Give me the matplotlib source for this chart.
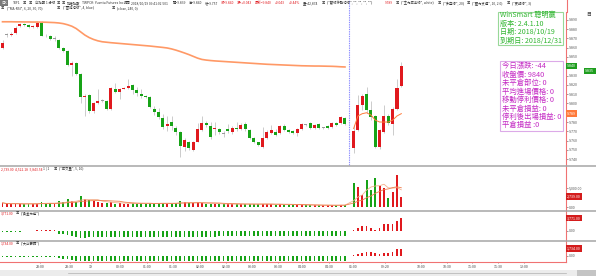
import numpy as np
import pandas as pd
import matplotlib
matplotlib.use("Agg")
import matplotlib.pyplot as plt
from matplotlib.patches import Rectangle
from matplotlib.lines import Line2D

plt.rcParams['font.family'] = ['Noto Sans CJK TC', 'DejaVu Sans']

W, H = 596, 276
NAN = np.nan

# candles, price * 1000; index 80 is the session break (empty slot)
opens = [9860, 9874, 9874, 9876, 9883, 9885, 9884, 9882, 9882, 9887,
         9873, 9872, 9870, 9868, 9860, 9856, 9841, 9844, 9832, 9807,
         9809, 9792, 9800, 9803, 9803, 9794, 9816, 9812, 9816, 9817,
         9820, 9814, 9810, 9808, 9807, 9794, 9791, 9784, 9776, 9780,
         9774, 9769, 9753, 9758, 9750, 9759, 9771, 9779, 9776, 9773,
         9772, 9768, 9773, 9769, 9774, 9772, 9778, 9771, 9763, 9758,
         9753, 9763, 9768, 9769, 9768, 9776, 9771, 9770, 9768, 9772,
         9777, 9779, 9774, 9778, 9774, 9776, 9775, 9779, 9779, 9784,
         NAN, 9752, 9771, 9798, 9810, 9793, 9786, 9753, 9769, 9787,
         9778, 9794, 9819]
highs = [9868, 9876, 9877, 9883, 9887, 9887, 9885, 9884, 9889, 9889,
         9875, 9874, 9872, 9869, 9861, 9857, 9846, 9845, 9833, 9810,
         9810, 9802, 9815, 9805, 9804, 9818, 9822, 9817, 9818, 9826,
         9821, 9818, 9815, 9809, 9808, 9797, 9795, 9789, 9786, 9787,
         9776, 9770, 9763, 9760, 9760, 9779, 9786, 9781, 9780, 9780,
         9774, 9770, 9778, 9776, 9780, 9779, 9780, 9772, 9764, 9759,
         9775, 9771, 9777, 9772, 9777, 9778, 9773, 9771, 9774, 9779,
         9778, 9780, 9778, 9779, 9775, 9777, 9780, 9780, 9787, 9785,
         NAN, 9777, 9809, 9810, 9818, 9803, 9788, 9773, 9798, 9789,
         9796, 9826, 9845]
lows = [9858, 9871, 9872, 9875, 9882, 9883, 9881, 9881, 9881, 9872,
        9871, 9868, 9867, 9859, 9855, 9840, 9830, 9831, 9800, 9786,
        9790, 9790, 9799, 9801, 9793, 9793, 9811, 9805, 9815, 9816,
        9810, 9808, 9806, 9806, 9795, 9788, 9783, 9773, 9770, 9771,
        9766, 9742, 9749, 9750, 9749, 9758, 9770, 9775, 9762, 9766,
        9767, 9764, 9768, 9767, 9770, 9771, 9770, 9762, 9757, 9754,
        9752, 9762, 9767, 9765, 9767, 9770, 9768, 9767, 9765, 9771,
        9776, 9772, 9773, 9773, 9773, 9773, 9774, 9776, 9778, 9777,
        NAN, 9747, 9770, 9793, 9790, 9782, 9752, 9751, 9768, 9777,
        9766, 9793, 9818]
closes = [9865, 9874, 9875, 9881, 9885, 9884, 9882, 9883, 9887, 9873,
          9872, 9869, 9870, 9860, 9856, 9841, 9844, 9832, 9807, 9808,
          9792, 9800, 9803, 9803, 9794, 9817, 9812, 9816, 9817, 9819,
          9814, 9811, 9808, 9807, 9796, 9791, 9785, 9775, 9778, 9776,
          9769, 9754, 9761, 9752, 9759, 9772, 9779, 9777, 9764, 9774,
          9769, 9768, 9770, 9774, 9772, 9777, 9772, 9763, 9758, 9755,
          9763, 9769, 9771, 9766, 9776, 9771, 9769, 9768, 9772, 9778,
          9777, 9774, 9777, 9774, 9774, 9774, 9779, 9777, 9785, 9778,
          NAN, 9770, 9798, 9808, 9793, 9785, 9753, 9771, 9786, 9779,
          9794, 9817, 9840]

# long average (close, 240) on the night session
ma_long = [9887.8, 9887.8, 9887.8, 9887.7, 9887.7, 9887.6, 9887.6, 9887.5, 9887.5, 9887.4,
           9887.3, 9887.1, 9886.9, 9886.5, 9885.8, 9884.6, 9883.0, 9880.5, 9877.0, 9873.5,
           9870.8, 9868.8, 9867.3, 9866.3, 9865.8, 9865.3, 9864.9, 9864.5, 9864.1, 9863.7,
           9863.3, 9862.9, 9862.5, 9862.1, 9861.7, 9861.2, 9860.7, 9860.2, 9859.6, 9858.6,
           9857.3, 9855.8, 9854.2, 9852.5, 9850.6, 9848.7, 9847.3, 9846.6, 9846.1, 9845.7,
           9845.4, 9845.1, 9844.8, 9844.5, 9844.2, 9843.9, 9843.6, 9843.3, 9843.0, 9842.7,
           9842.4, 9842.1, 9841.9, 9841.7, 9841.5, 9841.3, 9841.1, 9840.9, 9840.7, 9840.5,
           9840.4, 9840.3, 9840.2, 9840.2, 9840.1, 9840.0, 9839.9, 9839.7, 9839.4, 9839.2]
# short average on the day session (bars 81..92)
ma_short = [9773, 9786.5, 9789, 9790, 9787.5, 9782, 9780, 9780, 9780, 9782, 9786.5, 9789]

volume = [1100, 700, 800, 900, 800, 700, 900, 800, 900, 1300,
          900, 1100, 800, 1500, 1200, 2000, 1500, 1400, 2900, 2000,
          1900, 1600, 1300, 1000, 1100, 1400, 900, 1000, 800, 900,
          1000, 900, 1000, 900, 1000, 900, 1000, 1100, 900, 900,
          1000, 1500, 1300, 1100, 1000, 1200, 1000, 900, 900, 800,
          800, 700, 800, 800, 700, 800, 700, 800, 800, 700,
          900, 700, 700, 600, 700, 600, 600, 600, 600, 500,
          500, 400, 500, 400, 400, 500, 400, 500, 600, 500,
          NAN, 6300, 5260, 3160, 7100, 4470, 7700, 5600, 5080, 2370,
          4030, 8400, 2739]

gold_power = [-250, -250, -250, -250, -250, 80, 80, 80, 250, 250,
              250, 250, 250, -900, -1000, -1200, -1500, -1800, -2100, -2000,
              -1800, -1700, -1600, -1650, -1650, -1650, -1650, -1650, -1650, -1650,
              -1650, -1650, -1650, -1650, -1650, -1650, -1650, -1650, -1650, -1650,
              -1650, -1650, -1650, -1650, -1650, -1650, -1650, -1650, -1650, -1650,
              -1450, -1450, -1450, -1450, -1450, -1450, -1450, -1450, -1450, -1450,
              -1450, -1450, -1450, -1450, -1450, -1450, -1450, -1450, -1450, -1450,
              -1450, -1450, -1450, -1450, -1450, -1450, -1450, -1450, -1450, -1450,
              NAN, 250, 800, 1450, 1450, 950, 250, 800, 1950, 1950,
              1950, 2900, 3771]
big_players = [-250, -250, -250, -250, -250, -250, -250, -250, -250, -250,
               -250, -250, -250, -700, -800, -900, -1100, -1300, -1300, -1300,
               -1300, -1300, -1300, -1300, -1300, -1300, -1300, -1300, -1300, -1300,
               -1300, -1300, -1300, -1300, -1300, -1300, -1300, -1300, -1300, -1300,
               -1300, -1300, -1300, -1300, -1300, -1300, -1300, -1300, -1300, -1300,
               -1300, -1300, -1300, -1300, -1300, -1300, -1300, -1300, -1300, -1300,
               -1300, -1300, -1300, -1300, -1300, -1300, -1300, -1300, -1300, -1300,
               -1300, -1300, -1300, -1300, -1300, -1300, -1300, -1300, -1300, -1300,
               NAN, 200, 250, 600, 850, 850, 500, 250, 500, 500,
               850, 1500, 1734]

time_labels = ['23:00', '23:30', '19', '00:30', '01:00', '01:30', '02:00', '02:30', '03:00',
               '03:30', '04:00', '04:30', '05:00', '09:20', '10:00', '10:30', '11:00',
               '11:30', '12:00']
time_pos = [8.7, 15.5, 20.4, 27.1, 33.3, 39.4, 45.6, 51.6, 57.5, 63.5, 69.1, 75.3,
            80.9, 88.2, 96.5, 102.5, 108.3, 114.3, 120.3]

info_green = ['WinSmart 聰明贏', '版本: 2.4.1.10', '日期: 2018/10/19', '到期日: 2018/12/31']
info_purple = ['今日漲跌: -44', '收盤價: 9840', '未平倉部位: 0', '平均進場價格: 0',
               '移動停利價格: 0', '未平倉損益: 0', '停利後出場損益: 0', '平倉損益 :0']

RED, GREEN = '#e0191e', '#17a317'
LINE_RED = '#f07272'

fig = plt.figure(figsize=(W / 100, H / 100), dpi=100)


def fx(px):
    return px / W


def fy(py):
    return 1 - py / H


def panel(top, bottom):
    return fig.add_axes([0, fy(bottom), fx(566), (bottom - top) / H])


ax = panel(12, 165)
axv = panel(166, 210)
ax3 = panel(211, 240)
ax4 = panel(241, 262)

step = 4.335
for a in (ax, axv, ax3, ax4):
    a.set_xlim(-2.5 / step, (566 - 2.5) / step)
    a.patch.set_alpha(0)
    for s in ('top', 'left', 'bottom'):
        a.spines[s].set_visible(False)
    a.spines['right'].set_color(LINE_RED)
    a.spines['right'].set_linewidth(0.8)
    a.yaxis.tick_right()
    a.tick_params(axis='y', labelsize=2.6, length=1.3, width=0.4, pad=0.8,
                  colors='#555555')
    a.tick_params(axis='x', bottom=False, labelbottom=False)

x = np.arange(len(opens))
o = np.array(opens, float) / 1000
h = np.array(highs, float) / 1000
l = np.array(lows, float) / 1000
c = np.array(closes, float) / 1000

# main price panel
ax.set_ylim(9.7338, 9.8983)
ax.vlines(x, l, h, color='#cccccc', lw=0.7, zorder=1)
up = c > o
dn = c < o
fl = c == o
ax.bar(x[up], (c - o)[up], bottom=o[up], width=0.7, color=RED, lw=0, zorder=2)
ax.bar(x[dn], (c - o)[dn], bottom=o[dn], width=0.7, color=GREEN, lw=0, zorder=2)
ax.bar(x[fl], 0.0009, bottom=o[fl] - 0.00045, width=0.7, color='#9a9a9a', lw=0, zorder=2)
ax.plot(np.arange(len(ma_long)), np.array(ma_long) / 1000, color='#ff9966', lw=1.2, zorder=3)
ax.plot(np.arange(81, 81 + len(ma_short)), np.array(ma_short) / 1000, color='#ff7a3a',
        lw=0.7, zorder=3)
ax.axvline(80, ymin=0, ymax=1 + 12 / 153, color='#8c8cff', lw=0.8,
           ls=(0, (1.2, 0.9)), clip_on=False)
pticks = np.round(np.arange(9.74, 9.8905, 0.01), 3)
ax.set_yticks(pticks)
# the two labels under the boxed last-value tags stay hidden
ax.set_yticklabels(['' if round(t, 2) in (9.84, 9.79) else f'{t:.3f}' for t in pticks])
yt = ax.get_yaxis_transform()
ax.text(1.002, c[-1], f'{c[-1]:.3f}', transform=yt, fontsize=2.6, color='white',
        va='center', ha='left', bbox=dict(boxstyle='square,pad=0.35', fc='#1f9e1f', ec='none'))
ax.text(1.034, 9.835, '9.835', transform=yt, fontsize=2.6, color='white',
        va='center', ha='left', bbox=dict(boxstyle='square,pad=0.35', fc='#1f9e1f', ec='none'))
ax.text(1.002, ma_short[-1] / 1000, f'{ma_short[-1] / 1000:.3f}', transform=yt, fontsize=2.6,
        color='white', va='center', ha='left',
        bbox=dict(boxstyle='square,pad=0.35', fc='#ff7a3a', ec='none'))

# volume panel
vol = np.array(volume, float)
prev = pd.Series(c).ffill().shift().to_numpy()
prev[0] = o[0]
vcol = np.where(c >= prev, RED, GREEN)
ok = ~np.isnan(vol)
axv.set_ylim(-789, 10789)
axv.bar(x[ok], vol[ok], width=0.45, color=vcol[ok], lw=0)
vs = pd.Series(vol[ok], index=x[ok])
axv.plot(vs.index, vs.rolling(5, min_periods=1).mean(), color='#f3b08e', lw=0.6)
axv.plot(vs.index, vs.rolling(10, min_periods=1).mean(), color='#ef7f4f', lw=0.6)
axv.set_yticks([0, 5000])
axv.set_yticklabels(['0.00', '5,000.00'])
axv.text(1.002, volume[-1], f'{volume[-1]:,.2f}', transform=axv.get_yaxis_transform(),
         fontsize=2.6, color='white', va='center', ha='left',
         bbox=dict(boxstyle='square,pad=0.35', fc='#d41c1c', ec='none'))


def osc(a, vals, lim):
    v = np.array(vals, float)
    m = ~np.isnan(v)
    a.set_ylim(*lim)
    a.bar(x[m], v[m], width=0.38, color=np.where(v[m] >= 0, RED, GREEN), lw=0)
    a.set_yticks([0])
    a.set_yticklabels(['0.00'])
    a.text(1.002, vals[-1], f'{vals[-1]:,.2f}', transform=a.get_yaxis_transform(),
           fontsize=2.6, color='white', va='center', ha='left',
           bbox=dict(boxstyle='square,pad=0.35', fc='#d41c1c', ec='none'))


osc(ax3, gold_power, (-2610, 5800))
osc(ax4, big_players, (-1612, 3596))
ax4.spines['bottom'].set_visible(True)
ax4.spines['bottom'].set_color(LINE_RED)
ax4.spines['bottom'].set_linewidth(0.8)
ax4.set_xticks(time_pos)
ax4.set_xticklabels(time_labels)
ax4.tick_params(axis='x', bottom=True, labelbottom=True, labelsize=2.6, length=1,
                width=0.4, pad=1.2, colors='#444444')

# panel separators and the bottom scroll bar
for yy in (165.5, 210.5, 240.5):
    fig.add_artist(Line2D([0, 1], [fy(yy), fy(yy)], color='#a6a6a6', lw=1.1))
fig.add_artist(Line2D([fx(566.5), fx(566.5)], [fy(0), fy(12)], color=LINE_RED, lw=0.8))
fig.add_artist(Rectangle((0, 0), 1, 6 / H, transform=fig.transFigure, fc='#ececec', ec='none'))
fig.add_artist(Rectangle((fx(577), 0), fx(19), 6 / H, transform=fig.transFigure,
                         fc='#c4c4c4', ec='none'))
fig.add_artist(Line2D([fx(68), fx(566)], [fy(272.5), fy(272.5)], color='#b0b0b0', lw=0.5))


def label_row(y, parts, size=2.4):
    for px, txt, col in parts:
        fig.text(fx(px), fy(y), txt, fontsize=size, color=col, va='center', ha='left')


BK = '#333333'
label_row(3.3, [(13, 'TXF1', BK), (23, '▣', BK), (29, '▣', BK), (35, '台指期 1 分線', BK),
                (57, '▣', BK), (62, '▣', BK), (67, '加權指數', BK),
                (82, 'TWPCK: Yuanta Futures Inc', BK), (124, '時間', BK),
                (131, '2018/10/19 09:41:02.501', BK), (173, '開=9.839', BK),
                (189, '高=9.840', BK), (205, '低=9.757', BK), (221, '收=9.840', RED),
                (237, '漲=+0.043', RED), (255, '最新=9.840', RED), (275, '+0.043', RED),
                (289, '+0.44%', RED), (303, '量=42,874', BK), (322, '▣', BK),
                (327, '("雙線移動均線", "", "", "", "")', BK), (385, '9.789', RED),
                (396, '▣', BK), (401, '("主力成本線", white)', BK), (438, '▣', BK),
                (443, '("多空線", 20)', BK), (467, '▣', BK),
                (472, '("壓力支撐", 10, 2.0)', BK), (507, '▣', BK), (512, '("反轉線", 3)', BK)])
fig.text(fx(1), fy(3.3), '日K', fontsize=2.4, color='white', va='center', ha='left',
         bbox=dict(boxstyle='square,pad=0.3', fc='#7a7a7a', ec='none'))
label_row(7.8, [(1, '▣', BK), (7, '("MA-RSI", 6, 20, 30, 70)', BK), (57, '▣', BK),
                (63, '("雲端均線", 4, blue)', BK), (112, '▣', BK), (117, '(close, 240, 0)', BK)])
label_row(169, [(1, '2,739.00  4,522.18  5,843.54', RED), (43, '1 | 1', BK), (54, '▣', BK),
                (59, '("成交量", 5, 10)', BK)])
label_row(213.5, [(1, '3,771.00', RED), (16, '▣', BK), (21, '("黃金力道")', BK)])
label_row(243, [(1, '1,734.00', RED), (16, '▣', BK), (21, '("大戶籌碼")', BK)])
fig.text(fx(586), fy(14), '目', fontsize=3.5, color='#444444', va='center', ha='left')

# info boxes
fig.add_artist(Rectangle((fx(498), fy(45)), fx(65), 33 / H, transform=fig.transFigure,
                         fc='white', ec='#98d898', lw=0.8))
for k, txt in enumerate(info_green):
    fig.text(fx(500), fy(15.3 + 8.5 * k), txt, fontsize=5.1, color='#2fb52f',
             va='center', ha='left')
fig.add_artist(Rectangle((fx(500), fy(131)), fx(63), 70 / H, transform=fig.transFigure,
                         fc='white', ec='#dcaae8', lw=0.8))
for k, txt in enumerate(info_purple):
    fig.text(fx(502), fy(66.3 + 8.45 * k), txt, fontsize=5.3, color='#c42ac4',
             va='center', ha='left')

fig.savefig('out.png', dpi=100)
